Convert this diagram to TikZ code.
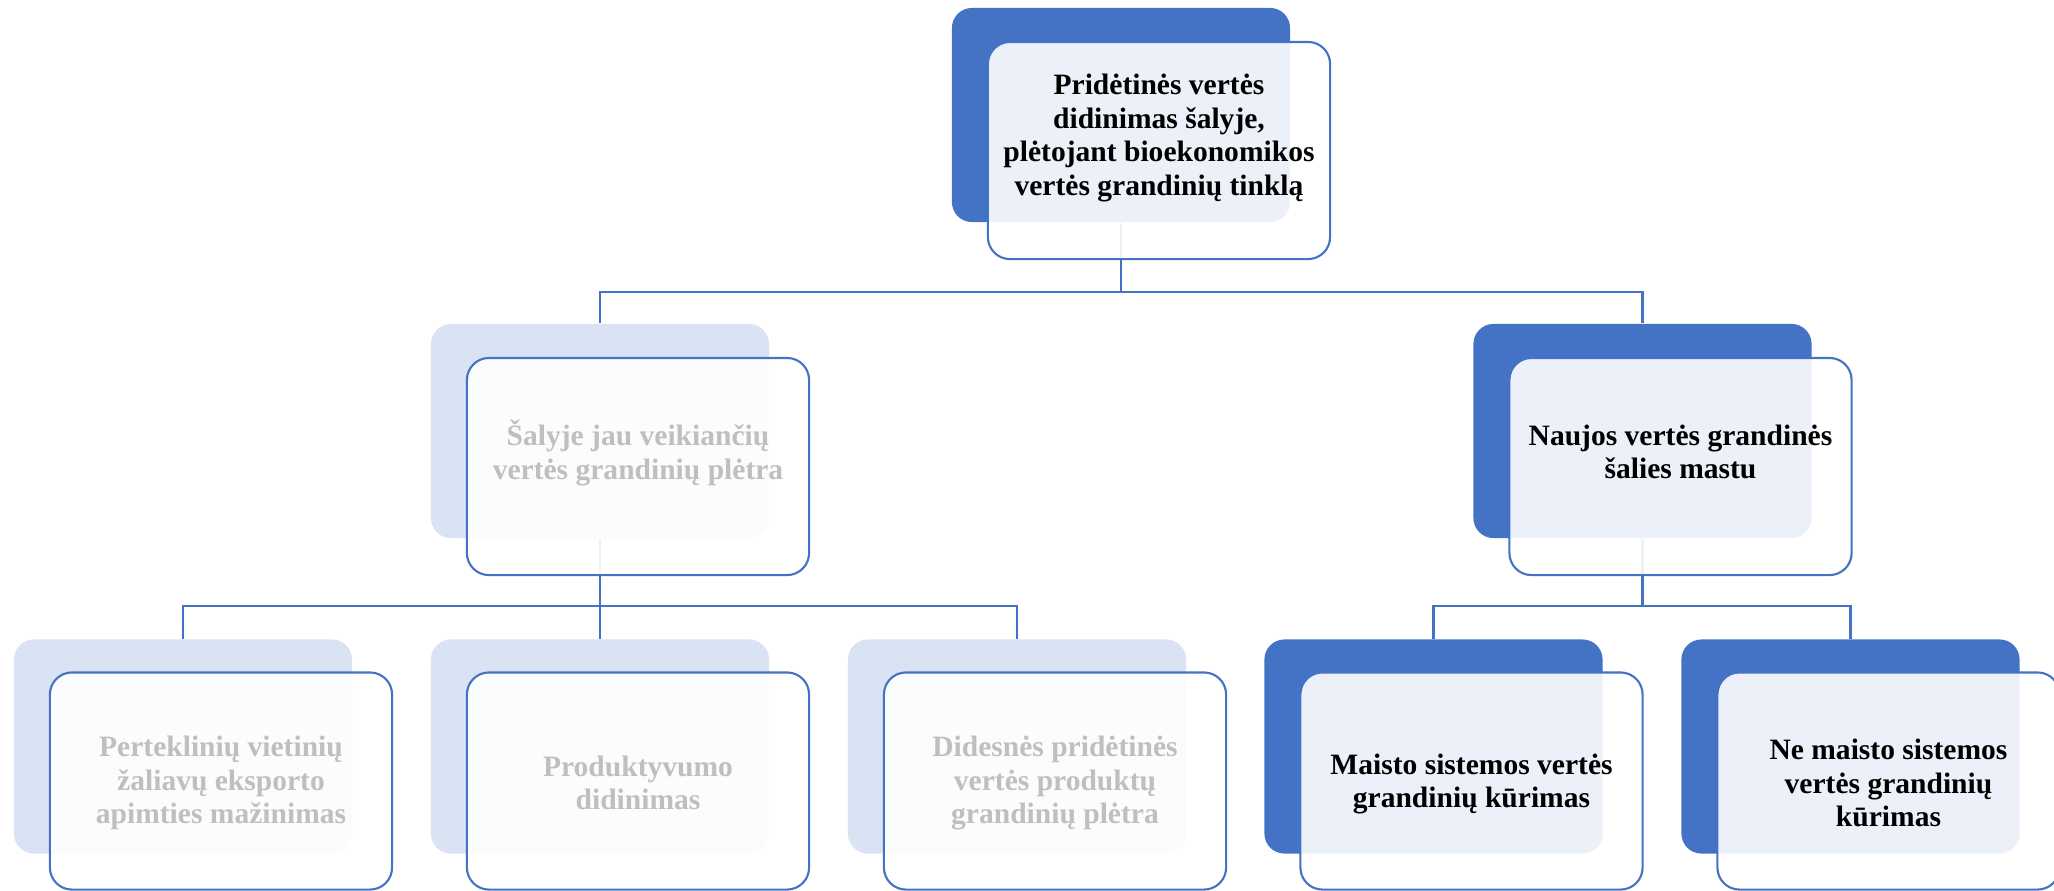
\documentclass[tikz,border=0pt]{standalone}
\usepackage{fontspec}
\setmainfont{Liberation Serif}
\definecolor{accblue}{HTML}{4472C4}
\definecolor{palblue}{HTML}{DAE3F3}
\definecolor{fadegray}{HTML}{BFBFBF}
\begin{document}
\begin{tikzpicture}[x=0.01cm,y=-0.01cm,
  backbox/.style={rectangle,rounded corners=0.2cm,inner sep=0pt,minimum width=3.38cm,minimum height=2.14cm},
  darkback/.style={backbox,fill=accblue},
  paleback/.style={backbox,fill=palblue},
  frontbox/.style={rectangle,rounded corners=0.22cm,inner sep=0pt,minimum width=3.42cm,minimum height=2.17cm,draw=accblue,line width=0.6pt,fill=white,fill opacity=0.9},
  conn/.style={draw=accblue,line width=0.6pt},
  txt/.style={align=center,font=\fontsize{8.4}{9.5}\selectfont\bfseries},
  fadetxt/.style={txt,text=fadegray}]
  \useasboundingbox (0,0) rectangle (2054,890);
  \clip (0,0) rectangle (2054,890);
  \node[darkback] (b1) at (1121,115) {};
  \node[paleback] (b2a) at (600,431) {};
  \node[darkback] (b2b) at (1642.5,431) {};
  \node[paleback] (b3a) at (183,746.5) {};
  \node[paleback] (b3b) at (600,746.5) {};
  \node[paleback] (b3c) at (1017,746.5) {};
  \node[darkback] (b3d) at (1433.5,746.5) {};
  \node[darkback] (b3e) at (1850.5,746.5) {};
  \coordinate (j1) at (1121,292);
  \coordinate (j2) at (600,606);
  \coordinate (j3) at (1642.5,606);
  \draw[conn] (b1.south) -- (j1);
  \draw[conn] (b2a.north) |- (j1) -| (b2b.north);
  \draw[conn] (b2a.south) -- (b3b.north);
  \draw[conn] (b3a.north) |- (j2) -| (b3c.north);
  \draw[conn] (b2b.south) -- (j3);
  \draw[conn] (b3d.north) |- (j3) -| (b3e.north);
  \node[frontbox] (f1) at (1159,150.5) {};
  \node[frontbox] (f2a) at (638,466.5) {};
  \node[frontbox] (f2b) at (1680.5,466.5) {};
  \node[frontbox] (f3a) at (221,781) {};
  \node[frontbox] (f3b) at (638,781) {};
  \node[frontbox] (f3c) at (1055,781) {};
  \node[frontbox] (f3d) at (1471.5,781) {};
  \node[frontbox] (f3e) at (1888.5,781) {};
  \node[txt] (t1) at (1159,138) {Pridėtinės vertės\\didinimas šalyje,\\plėtojant bioekonomikos\\vertės grandinių tinklą};
  \node[fadetxt] (t2a) at (638,453) {Šalyje jau veikiančių\\vertės grandinių plėtra};
  \node[txt] (t2b) at (1680.5,452) {Naujos vertės grandinės\\šalies mastu};
  \node[fadetxt] (t3a) at (221,783) {Perteklinių vietinių\\žaliavų eksporto\\apimties mažinimas};
  \node[fadetxt] (t3b) at (638,783) {Produktyvumo\\didinimas};
  \node[fadetxt] (t3c) at (1055,783) {Didesnės pridėtinės\\vertės produktų\\grandinių plėtra};
  \node[txt] (t3d) at (1471.5,784) {Maisto sistemos vertės\\grandinių kūrimas};
  \node[txt] (t3e) at (1888.5,783) {Ne maisto sistemos\\vertės grandinių\\kūrimas};
\end{tikzpicture}
\end{document}
